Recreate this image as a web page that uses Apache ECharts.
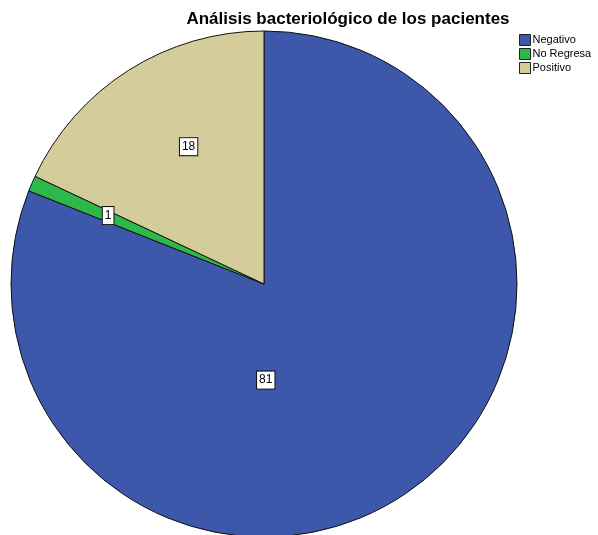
<!DOCTYPE html>
<html>
<head>
<meta charset="utf-8">
<script src="https://cdn.jsdelivr.net/npm/echarts@6/dist/echarts.min.js"></script>
<style>
  html, body { margin: 0; padding: 0; background: #fff; }
  #chart { width: 598px; height: 535px; }
</style>
</head>
<body>
<div id="chart"></div>
<script>
// datos
const categorias = ['Negativo', 'No Regresa', 'Positivo']
const valores = [81, 1, 18]
const colores = ['#3d57aa', '#2db84a', '#d4cd9b']
// desplazamiento de las etiquetas respecto a la posición "inside"
const ajusteEtiqueta = [[-71, -11], [-37, -17], [-6, -28]]

let chart = echarts.init(document.getElementById('chart'))

chart.setOption({
  animation: false,
  title: {
    text: 'Análisis bacteriológico de los pacientes',
    left: 343,
    top: 6,
    textAlign: 'center',
    textStyle: { fontFamily: 'Liberation Sans', fontSize: 17, fontWeight: 'bold', color: '#000' }
  },
  legend: {
    orient: 'vertical',
    left: 519,
    top: 34,
    padding: 0,
    icon: 'rect',
    itemWidth: 11,
    itemHeight: 11,
    itemGap: 2,
    data: categorias,
    textStyle: { fontFamily: 'Liberation Sans', fontSize: 11, color: '#000', padding: [0, 0, 0, -3] },
    itemStyle: { borderColor: '#222', borderWidth: 1 }
  },
  series: [{
    type: 'pie',
    center: [264, 284],
    radius: 253,
    startAngle: 90,
    clockwise: true,
    avoidLabelOverlap: false,
    color: colores,
    itemStyle: { borderColor: '#111', borderWidth: 1 },
    label: {
      show: true,
      position: 'inside',
      formatter: '{c}',
      fontFamily: 'Liberation Sans',
      fontSize: 12,
      color: '#000',
      backgroundColor: '#fff',
      borderColor: '#111',
      borderWidth: 1,
      padding: [3, 2, 2, 2]
    },
    labelLayout: function (params) {
      let d = ajusteEtiqueta[params.dataIndex]
      return { dx: d[0], dy: d[1] }
    },
    emphasis: { disabled: true },
    data: categorias.map((c, i) => ({ name: c, value: valores[i] }))
  }]
})
</script>
</body>
</html>
